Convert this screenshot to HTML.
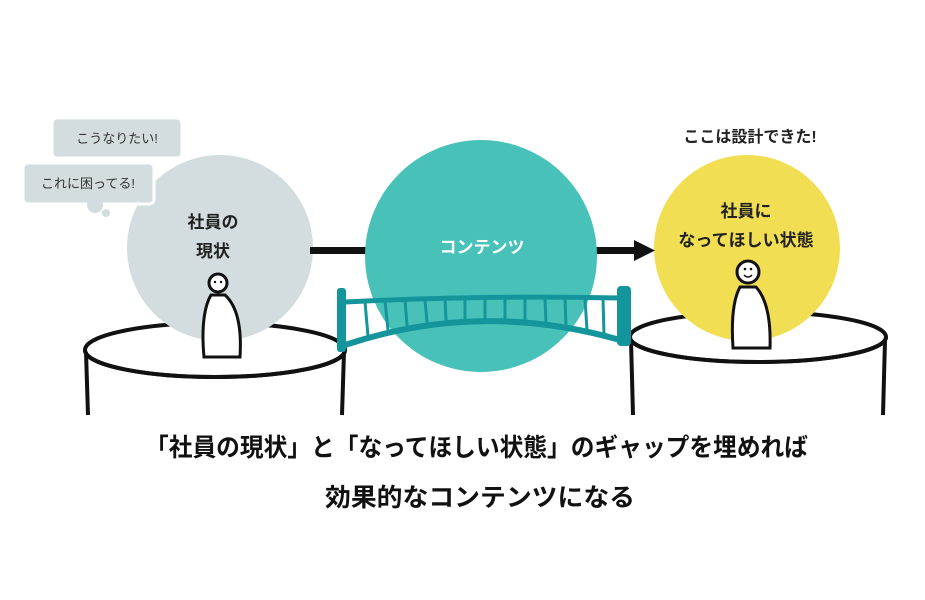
<!DOCTYPE html>
<html><head><meta charset="utf-8"><style>
html,body{margin:0;padding:0;background:#fff;}
svg{display:block;}
text{font-family:"Liberation Sans","Noto Sans CJK JP",sans-serif;}
</style></head><body>
<svg width="925" height="600" viewBox="0 0 925 600" xmlns="http://www.w3.org/2000/svg">
<rect width="925" height="600" fill="#fff"/>
<ellipse cx="215" cy="350" rx="130" ry="27" fill="#fff" stroke="#111" stroke-width="4"/>
<ellipse cx="758" cy="337" rx="128" ry="25" fill="#fff" stroke="#111" stroke-width="4"/>
<circle cx="220" cy="248" r="93" fill="#d3dcde"/>
<circle cx="747" cy="248" r="93" fill="#f1de52"/>
<path d="M85 350 A130 27 0 0 0 345 350" fill="none" stroke="#111" stroke-width="4"/>
<path d="M630 337 A128 25 0 0 0 886 337" fill="none" stroke="#111" stroke-width="4"/>
<path d="M86 352 L88 415 M344 352 L342 415" stroke="#111" stroke-width="4" fill="none"/>
<path d="M631 340 L633 415 M885 340 L883 415" stroke="#111" stroke-width="4" fill="none"/>
<rect x="310" y="247" width="60" height="7" fill="#111"/>
<rect x="594" y="247" width="44" height="7" fill="#111"/>
<polygon points="634,240 655,250.5 634,261" fill="#111"/>
<circle cx="481" cy="256" r="116" fill="#48c2b9"/>
<text x="482" y="253" font-size="17" font-weight="bold" fill="#fff" text-anchor="middle">コンテンツ</text>
<g fill="none" stroke="#14959c" stroke-linecap="round">
<path d="M345 302 Q480 295 620 298" stroke-width="5"/>
<path d="M345 345 Q480 300 620 340" stroke-width="6"/>
<g stroke-width="3">
<line x1="365" y1="302" x2="368" y2="336"/><line x1="385" y1="301" x2="388" y2="330"/>
<line x1="405" y1="300" x2="407" y2="325"/><line x1="425" y1="300" x2="427" y2="322"/>
<line x1="445" y1="299" x2="446" y2="320"/><line x1="465" y1="299" x2="465" y2="319"/>
<line x1="485" y1="299" x2="485" y2="319"/><line x1="505" y1="299" x2="505" y2="319"/>
<line x1="525" y1="299" x2="525" y2="320"/><line x1="545" y1="299" x2="546" y2="322"/>
<line x1="565" y1="299" x2="566" y2="326"/><line x1="585" y1="299" x2="587" y2="330"/>
<line x1="603" y1="299" x2="604" y2="335"/>
</g>
</g>
<rect x="337" y="288" width="9" height="64" rx="3" fill="#14959c"/>
<rect x="617" y="286" width="14" height="60" rx="4" fill="#14959c"/>
<text x="213" y="228" font-size="17" font-weight="bold" fill="#222" text-anchor="middle">社員の</text>
<text x="213" y="257" font-size="17" font-weight="bold" fill="#222" text-anchor="middle">現状</text>
<text x="746" y="217" font-size="17" font-weight="bold" fill="#222" text-anchor="middle">社員に</text>
<text x="746" y="246" font-size="17" font-weight="bold" fill="#222" text-anchor="middle">なってほしい状態</text>
<text x="750" y="142" font-size="16" font-weight="bold" fill="#222" text-anchor="middle">ここは設計できた!</text>
<g fill="#fff" stroke="#111" stroke-width="3">
<circle cx="218" cy="283" r="9"/>
<path d="M211 295 L225 295 C236 305 242 325 240 357 L204 357 C201 325 205 305 211 295 Z"/>
<circle cx="748" cy="272" r="11"/>
<path d="M740 287 L756 287 C766 298 771 318 770 348 L733 348 C731 318 734 298 740 287 Z"/>
</g>
<circle cx="215" cy="282" r="1.2" fill="#111"/><circle cx="221" cy="282" r="1.2" fill="#111"/>
<circle cx="745" cy="269" r="1.3" fill="#111"/><circle cx="751" cy="269" r="1.3" fill="#111"/>
<path d="M744 275 Q748 279 752 275" stroke="#111" stroke-width="1.5" fill="none"/>
<rect x="52" y="118" width="130" height="40" rx="5" fill="#d3dcde" stroke="#fff" stroke-width="3"/>
<text x="117" y="143" font-size="13" fill="#333" text-anchor="middle">こうなりたい!</text>
<rect x="23" y="163" width="131" height="41" rx="5" fill="#d3dcde" stroke="#fff" stroke-width="3"/>
<circle cx="95" cy="205" r="8" fill="#d3dcde"/>
<circle cx="106" cy="213" r="4" fill="#d3dcde"/>
<text x="88" y="188" font-size="13" fill="#333" text-anchor="middle">これに困ってる!</text>
<text x="145" y="456" font-size="25" font-weight="bold" fill="#111" textLength="663" lengthAdjust="spacingAndGlyphs">「社員の現状」と「なってほしい状態」のギャップを埋めれば</text>
<text x="325" y="506" font-size="25" font-weight="bold" fill="#111" textLength="310" lengthAdjust="spacingAndGlyphs">効果的なコンテンツになる</text>
</svg>
</body></html>
